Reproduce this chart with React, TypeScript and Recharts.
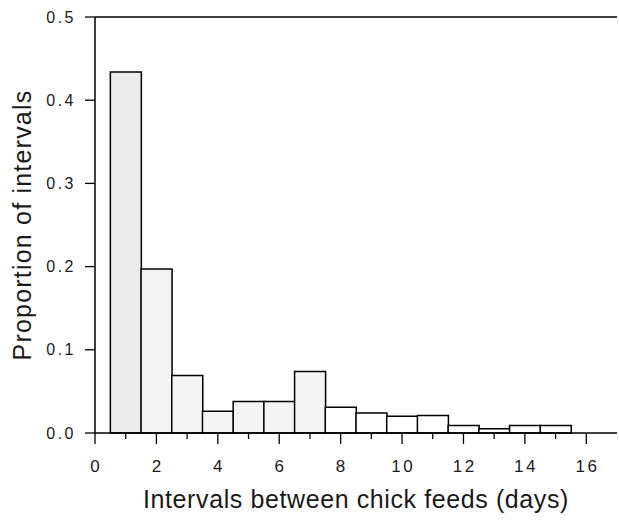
import { BarChart, Bar, XAxis, YAxis, Cell, ReferenceLine } from 'recharts';

const intervals = [1, 2, 3, 4, 5, 6, 7, 8, 9, 10, 11, 12, 13, 14, 15];
const proportions = [0.434, 0.197, 0.069, 0.026, 0.038, 0.038, 0.074, 0.031, 0.024, 0.020, 0.021, 0.009, 0.005, 0.009, 0.009];
const xTicks = [0, 1, 2, 3, 4, 5, 6, 7, 8, 9, 10, 11, 12, 13, 14, 15, 16];
const yTicks = [0, 0.1, 0.2, 0.3, 0.4, 0.5];

const data = intervals.map((d, i) => ({ interval: d, value: proportions[i] }));

const FONT = '"Liberation Sans", Arial, sans-serif';
const INK = '#1a1a1a';

function XTick(props: any) {
  const { x, y, payload } = props;
  const major = payload.value % 2 === 0;
  return (
    <g>
      <line x1={x} x2={x} y1={y} y2={y + (major ? 11 : 6)} stroke="#000" strokeWidth={1.3} />
      {major && (
        <text x={x + 1.2} y={y + 39} textAnchor="middle" fontSize={17} fill={INK} fontFamily={FONT} letterSpacing={2.5}>
          {payload.value}
        </text>
      )}
    </g>
  );
}

export default function App() {
  return (
    <div style={{ position: 'absolute', left: 0, top: 0, background: '#fff' }}>
      <BarChart
        width={619}
        height={520}
        data={data}
        margin={{ top: 17, right: 2, bottom: 0, left: 0 }}
        barCategoryGap={0}
        barGap={0}
      >
        <XAxis
          type="number"
          dataKey="interval"
          domain={[0, 17]}
          ticks={xTicks}
          interval={0}
          tickLine={false}
          tickSize={0}
          tickMargin={0}
          tick={<XTick />}
          height={87}
          axisLine={{ stroke: '#000', strokeWidth: 1.5 }}
          label={{ value: 'Intervals between chick feeds (days)', position: 'insideBottom', offset: 12, fontSize: 25, fill: INK, fontFamily: FONT, letterSpacing: 0.6 }}
        />
        <YAxis
          type="number"
          domain={[0, 0.5]}
          ticks={yTicks}
          width={95}
          tickSize={10}
          tickMargin={9}
          tickFormatter={(v: number) => v.toFixed(1)}
          tick={{ fontSize: 16, fill: INK, fontFamily: FONT, letterSpacing: 2.5 }}
          tickLine={{ stroke: '#000', strokeWidth: 1.3 }}
          axisLine={{ stroke: '#000', strokeWidth: 1.5 }}
          label={{ value: 'Proportion of intervals', angle: -90, position: 'insideLeft', offset: 22, fontSize: 25, fill: INK, fontFamily: FONT, letterSpacing: 1.2, style: { textAnchor: 'middle' } }}
        />
        <ReferenceLine y={0.5} stroke="#000" strokeWidth={1.3} />
        <Bar dataKey="value" stroke="#000" strokeWidth={1.5} isAnimationActive={false}>
          {data.map((d, i) => (
            <Cell key={d.interval} fill={i === 0 ? '#ebebeb' : i < 7 ? '#f4f4f4' : '#ffffff'} />
          ))}
        </Bar>
      </BarChart>
    </div>
  );
}
